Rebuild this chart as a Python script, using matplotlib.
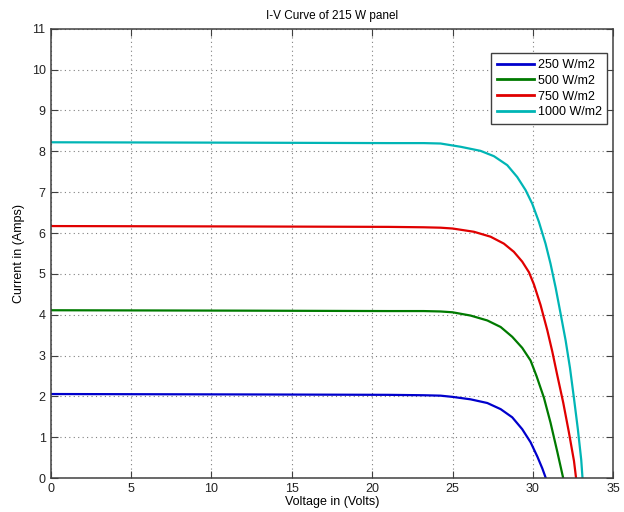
import numpy as np
import matplotlib
matplotlib.use("Agg")
from matplotlib import pyplot as plt

# I-V curves, voltage (V) vs current (A)
v_250 = [0, 12, 21, 23.2, 24.25, 25, 26.12, 27.16, 27.99, 28.71, 29.33, 29.85,
         30.27, 30.58, 30.8]
i_250 = [2.06, 2.05, 2.04, 2.03, 2.02, 1.99, 1.93, 1.84, 1.69, 1.49, 1.2, 0.88,
         0.53, 0.24, 0.0]

v_500 = [0, 12, 21, 23.2, 24.25, 25, 26.12, 27.16, 27.99, 28.71, 29.33, 29.85,
         30.22, 30.68, 31.09, 31.51, 31.88]
i_500 = [4.11, 4.1, 4.09, 4.09, 4.08, 4.06, 3.98, 3.86, 3.7, 3.46, 3.19, 2.88,
         2.5, 1.97, 1.36, 0.65, 0.0]

v_750 = [0, 12, 21, 23.2, 24.25, 25, 26.33, 27.36, 28.19, 28.81, 29.33, 29.75,
         30.06, 30.47, 30.89, 31.2, 31.51, 31.88, 32.23, 32.55, 32.68]
i_750 = [6.17, 6.16, 6.15, 6.14, 6.13, 6.11, 6.03, 5.91, 5.74, 5.54, 5.3, 5.04,
         4.74, 4.24, 3.62, 3.1, 2.52, 1.85, 1.13, 0.42, 0.0]

v_1000 = [0, 12, 21, 23.2, 24.25, 25.5, 26.74, 27.57, 28.4, 29.02, 29.54, 29.95,
          30.37, 30.78, 31.09, 31.41, 31.72, 32.03, 32.3, 32.55, 32.79, 33.0, 33.08]
i_1000 = [8.22, 8.21, 8.2, 8.2, 8.19, 8.11, 8.01, 7.88, 7.66, 7.37, 7.05, 6.72,
          6.27, 5.74, 5.25, 4.66, 4.02, 3.37, 2.7, 1.95, 1.2, 0.45, 0.0]

labels = ["250 W/m2", "500 W/m2", "750 W/m2", "1000 W/m2"]
colors = ["#0000cc", "#007a00", "#e00000", "#00b5b5"]

plt.rcParams["font.family"] = ["Liberation Sans", "DejaVu Sans"]

fig = plt.figure(figsize=(6.24, 5.12), dpi=100)
ax = fig.add_axes([0.081, 0.066, 0.902, 0.878])

for v, i, c, lab in zip([v_250, v_500, v_750, v_1000],
                        [i_250, i_500, i_750, i_1000], colors, labels):
    ax.plot(v, i, color=c, lw=1.6, label=lab)

ax.set_xlim(0, 35)
ax.set_ylim(0, 11)
ax.set_xticks(np.arange(0, 36, 5))
ax.set_yticks(np.arange(0, 12, 1))
ax.grid(True, linestyle=(0, (1, 3)), color="#808080", lw=0.8)
ax.tick_params(direction="in", top=True, right=True, labelsize=9, length=5,
               color="#404040", labelcolor="#222222")
for s in ax.spines.values():
    s.set_linewidth(1.1)
    s.set_color("#404040")

ax.set_title("I-V Curve of 215 W panel", fontsize=8.5, pad=7)
ax.set_xlabel("Voltage in (Volts)", fontsize=9, labelpad=1)
ax.set_ylabel("Current in (Amps)", fontsize=9, labelpad=5)

leg = ax.legend(loc="upper right", bbox_to_anchor=(0.989, 0.945), fontsize=9,
                handlelength=3.0, handletextpad=0.25, borderpad=0.45,
                labelspacing=0.3, fancybox=False, framealpha=1,
                edgecolor="#404040", borderaxespad=0)
leg.get_frame().set_linewidth(1.0)
for ln in leg.get_lines():
    ln.set_linewidth(2.0)

fig.savefig("out.png", dpi=100)
